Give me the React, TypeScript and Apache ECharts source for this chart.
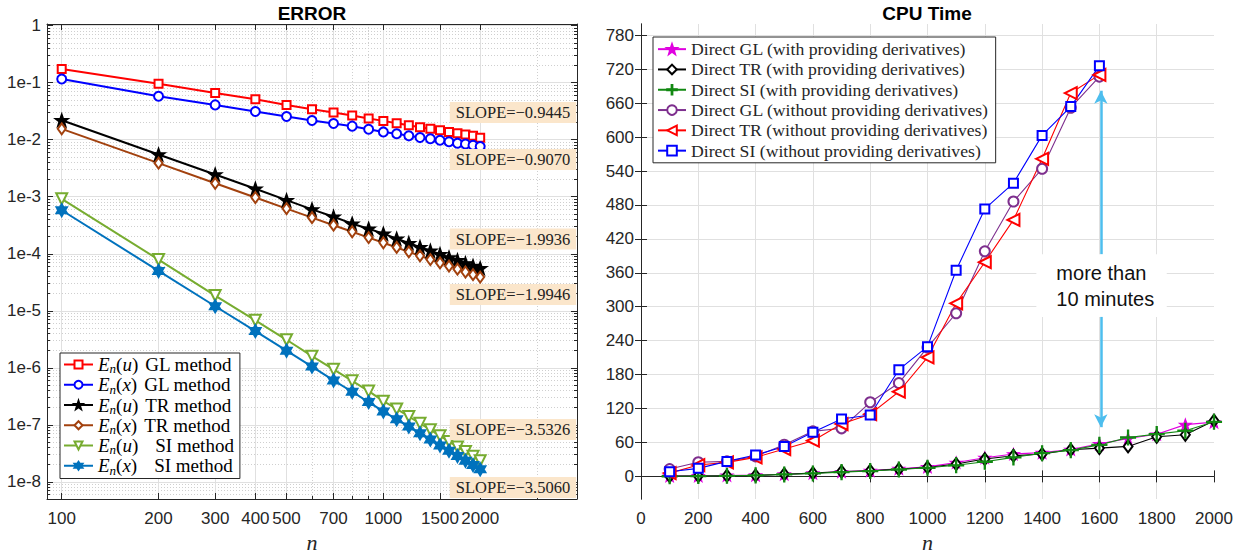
import React, { useEffect, useRef } from 'react';
import * as echarts from 'echarts';

// ---------- DATA ----------
const nErr = [100, 200, 300, 400, 500, 600, 700, 800, 900, 1000, 1100, 1200, 1300, 1400, 1500, 1600, 1700, 1800, 1900, 2000];
const errGLu = [0.174, 0.096, 0.066, 0.0513, 0.0408, 0.0343, 0.0299, 0.0265, 0.0235, 0.0214, 0.0195, 0.018, 0.0166, 0.0155, 0.0146, 0.0137, 0.013, 0.0123, 0.0117, 0.0108];
const errGLx = [0.1164, 0.0578, 0.0408, 0.0312, 0.0255, 0.0217, 0.0192, 0.0173, 0.0153, 0.0137, 0.0127, 0.0117, 0.0109, 0.0104, 0.0098, 0.0092, 0.0087, 0.0084, 0.008, 0.0076];
const errTRu = [0.022, 0.0055, 0.00246, 0.00138, 0.00087, 0.0006, 0.000446, 0.000337, 0.000275, 0.000225, 0.000184, 0.000154, 0.000131, 0.000113, 9.8e-5, 8.6e-5, 7.7e-5, 6.8e-5, 6.1e-5, 5.6e-5];
const errTRx = [0.0155, 0.00388, 0.00172, 0.00097, 0.00062, 0.00043, 0.000317, 0.000243, 0.000192, 0.000156, 0.000129, 0.000108, 9.2e-5, 7.9e-5, 6.9e-5, 6.07e-5, 5.37e-5, 4.79e-5, 4.3e-5, 3.9e-5];
const errSIu = [9.2e-4, 7.9e-5, 1.85e-5, 6.8e-6, 3.1e-6, 1.6e-6, 9.4e-7, 5.9e-7, 3.9e-7, 2.6e-7, 1.9e-7, 1.4e-7, 1.06e-7, 8.2e-8, 6.4e-8, 5.1e-8, 4.1e-8, 3.4e-8, 2.8e-8, 2.34e-8];
const errSIx = [5.8e-4, 5.0e-5, 1.2e-5, 4.4e-6, 2.0e-6, 1.05e-6, 6.0e-7, 3.8e-7, 2.5e-7, 1.72e-7, 1.25e-7, 9.3e-8, 7.1e-8, 5.5e-8, 4.35e-8, 3.5e-8, 2.85e-8, 2.35e-8, 1.97e-8, 1.66e-8];

const errXTicks = [100, 200, 300, 400, 500, 700, 1000, 1500, 2000];
const errXMinor = [600, 800, 900, 3000];
const errYDecades = [1e-8, 1e-7, 1e-6, 1e-5, 1e-4, 1e-3, 1e-2, 1e-1, 1];
const slopeTexts = ['SLOPE=−0.9445', 'SLOPE=−0.9070', 'SLOPE=−1.9936', 'SLOPE=−1.9946', 'SLOPE=−3.5326', 'SLOPE=−3.5060'];

const nCpu = [100, 200, 300, 400, 500, 600, 700, 800, 900, 1000, 1100, 1200, 1300, 1400, 1500, 1600, 1700, 1800, 1900, 2000];
const nCpuShort = [100, 200, 300, 400, 500, 600, 700, 800, 900, 1000, 1100, 1200, 1300, 1400, 1500, 1600];
const cpuGLwith = [0.6, 1.0, 1.6, 2.2, 3.8, 5.6, 8.2, 10.1, 13.6, 16.8, 24.5, 33.0, 39.5, 42.0, 47.5, 57.5, 67.0, 74.5, 91.5, 96.0];
const cpuTRwith = [0.4, 0.8, 1.2, 1.6, 3.9, 5.7, 8.6, 10.0, 12.8, 15.8, 21.8, 30.6, 36.5, 39.5, 47.0, 50.0, 53.0, 70.0, 73.6, 98.5];
const cpuSIwith = [0.2, 0.6, 1.0, 1.8, 3.4, 5.2, 7.6, 9.4, 12.2, 15.2, 19.6, 25.9, 33.6, 41.0, 46.5, 55.7, 68.8, 74.8, 80.8, 96.5];
const cpuGLwithout = [12.9, 25.0, 26.5, 35.4, 56.0, 79.6, 85.0, 131.0, 165.0, 228.0, 288.5, 398.0, 486.0, 544.0, 652.0, 707.0];
const cpuTRwithout = [5.8, 20.0, 24.8, 33.6, 48.3, 63.0, 92.6, 110.0, 149.7, 210.6, 306.0, 378.7, 453.6, 561.6, 677.9, 710.0];
const cpuSIwithout = [8.2, 14.2, 26.5, 37.7, 53.0, 77.9, 101.4, 108.5, 188.7, 229.4, 364.5, 473.0, 518.6, 603.0, 654.0, 726.0];
const cpuYTicks = [0, 60, 120, 180, 240, 300, 360, 420, 480, 540, 600, 660, 720, 780];

const errNames = ['En(u) GL method', 'En(x) GL method', 'En(u) TR method', 'En(x) TR method', 'En(u) SI method', 'En(x) SI method'];
const cpuNames = [
  'Direct GL (with providing derivatives)',
  'Direct TR (with providing derivatives)',
  'Direct SI (with providing derivatives)',
  'Direct GL (without providing derivatives)',
  'Direct TR (without providing derivatives)',
  'Direct SI (without providing derivatives)',
];

// ---------- STYLE ----------
const SANS = "'Liberation Sans', Arial, Helvetica, sans-serif";
const SERIF = "'Liberation Serif', 'Times New Roman', serif";
const AX = '#262626';
const GRID = '#E0E0E0';
const MINOR = '#CFCFCF';

const STAR5 = 'path://M0,-10 L2.35,-3.24 L9.51,-3.09 L3.8,1.24 L5.88,8.09 L0,4 L-5.88,8.09 L-3.8,1.24 L-9.51,-3.09 L-2.35,-3.24 Z';
const STAR6 = 'path://M0,-10 L2.887,-5 L8.66,-5 L5.774,0 L8.66,5 L2.887,5 L0,10 L-2.887,5 L-8.66,5 L-5.774,0 L-8.66,-5 L-2.887,-5 Z';
const PLUS = 'path://M-0.8,-10 L0.8,-10 L0.8,-0.8 L10,-0.8 L10,0.8 L0.8,0.8 L0.8,10 L-0.8,10 L-0.8,0.8 L-10,0.8 L-10,-0.8 L-0.8,-0.8 Z';

function pairs(xs: number[], ys: number[]) {
  return ys.map((v, i) => [xs[i], v]);
}

function buildMinorLog(min: number, max: number) {
  const out: number[] = [];
  for (let e = -10; e <= 1; e++) {
    for (let m = 2; m <= 9; m++) {
      const v = m * Math.pow(10, e);
      if (v > min * 1.0001 && v < max) out.push(v);
    }
  }
  return out;
}

const ERR_YMIN = 5e-9;
const ERR_YMAX = 1.07;
const ERR_XMIN = 90;
const ERR_XMAX = 4000;
const errYMinor = buildMinorLog(ERR_YMIN, ERR_YMAX);

function errSeries(name: string, data: number[], color: string, symbol: string, size: any, rotate = 0) {
  return {
    type: 'line',
    name,
    xAxisIndex: 0,
    yAxisIndex: 0,
    data: pairs(nErr, data),
    symbol,
    symbolSize: size,
    symbolRotate: rotate,
    symbolKeepAspect: true,
    lineStyle: { color, width: 2 },
    itemStyle: { color, borderColor: color, borderWidth: 1.5 },
    emphasis: { disabled: true },
    z: 3,
  };
}

function cpuSeries(name: string, xs: number[], data: number[], color: string, symbol: string, size: any, rotate = 0, fill?: string) {
  return {
    type: 'line',
    name,
    xAxisIndex: 3,
    yAxisIndex: 4,
    data: pairs(xs, data),
    symbol,
    symbolSize: size,
    symbolRotate: rotate,
    symbolKeepAspect: true,
    lineStyle: { color, width: 1.1 },
    itemStyle: { color: fill || color, borderColor: color, borderWidth: 1.1 },
    emphasis: { disabled: true },
    z: 3,
  };
}

const logFmtY = (v: number) => {
  const e = Math.round(Math.log10(v));
  return e === 0 ? '1' : '1e' + e;
};

function legendFmtErr(name: string) {
  const m = name.match(/^En\((\w)\) (\w+) method$/);
  if (!m) return name;
  const tok = m[2] === 'SI' ? 'gs' : 'g';
  return `{i|E}{s|n}{r|(}{i|${m[1]}}{r|)}{${tok}|${m[2]} method}`;
}

const slopeY = [112.5, 159.5, 239, 294.5, 429.5, 487.5];

function buildOption(): any {
  const axisLabelSans = { color: AX, fontFamily: SANS, fontSize: 17 };
  return {
    animation: false,
    backgroundColor: '#fff',
    textStyle: { fontFamily: SANS },
    grid: [
      { left: 47, top: 24, width: 530, height: 475, outerBoundsMode: 'none', containLabel: false },
      { left: 641, top: 24, width: 573, height: 475, outerBoundsMode: 'none', containLabel: false },
    ],
    xAxis: [
      {
        type: 'log', gridIndex: 0, min: ERR_XMIN, max: ERR_XMAX, position: 'bottom',
        axisLine: { show: true, lineStyle: { color: AX, width: 1 } },
        axisTick: { show: true, inside: true, length: 6, customValues: errXTicks, lineStyle: { color: AX } },
        axisLabel: { ...axisLabelSans, customValues: errXTicks, margin: 11, hideOverlap: false, formatter: (v: number) => String(Math.round(v)) },
        splitLine: { show: true, lineStyle: { color: GRID, width: 1 } },
        minorTick: { show: false }, minorSplitLine: { show: false },
        name: 'n', nameLocation: 'middle', nameGap: 29,
        nameTextStyle: { fontFamily: SERIF, fontStyle: 'italic', fontSize: 22, color: AX },
      },
      {
        type: 'log', gridIndex: 0, min: ERR_XMIN, max: ERR_XMAX, position: 'bottom',
        axisLine: { show: false },
        axisTick: { show: true, inside: true, length: 3, customValues: errXMinor, lineStyle: { color: AX } },
        axisLabel: { show: false, customValues: errXMinor },
        splitLine: { show: true, lineStyle: { color: MINOR, width: 1, type: [1, 2] } },
      },
      {
        type: 'log', gridIndex: 0, min: ERR_XMIN, max: ERR_XMAX, position: 'top',
        axisLine: { show: true, lineStyle: { color: AX, width: 1 } },
        axisTick: { show: true, inside: true, length: 6, customValues: errXTicks, lineStyle: { color: AX } },
        axisLabel: { show: false, customValues: errXTicks },
        splitLine: { show: false },
      },
      {
        type: 'value', gridIndex: 1, min: 0, max: 2000, interval: 200, position: 'bottom',
        axisLine: { show: true, lineStyle: { color: AX, width: 1 } },
        axisTick: { show: true, inside: true, length: 6, lineStyle: { color: AX } },
        axisLabel: { ...axisLabelSans, margin: 11, hideOverlap: false, showMinLabel: true, showMaxLabel: true, formatter: (v: number) => String(v) },
        splitLine: { show: true, showMinLine: false, showMaxLine: false, lineStyle: { color: GRID, width: 1 } },
        name: 'n', nameLocation: 'middle', nameGap: 29,
        nameTextStyle: { fontFamily: SERIF, fontStyle: 'italic', fontSize: 22, color: AX },
      },
      {
        type: 'value', gridIndex: 1, min: 0, max: 2000, interval: 200, position: 'top',
        axisLine: { show: true, lineStyle: { color: AX, width: 1 } },
        axisTick: { show: true, inside: true, length: 6, lineStyle: { color: AX } },
        axisLabel: { show: false },
        splitLine: { show: false },
      },
    ],
    yAxis: [
      {
        type: 'log', gridIndex: 0, min: ERR_YMIN, max: ERR_YMAX, position: 'left',
        axisLine: { show: true, lineStyle: { color: AX, width: 1 } },
        axisTick: { show: true, inside: true, length: 6, customValues: errYDecades, lineStyle: { color: AX } },
        axisLabel: { ...axisLabelSans, customValues: errYDecades, margin: 6, hideOverlap: false, formatter: logFmtY },
        splitLine: { show: true, lineStyle: { color: GRID, width: 1 } },
        minorTick: { show: false }, minorSplitLine: { show: false },
      },
      {
        type: 'log', gridIndex: 0, min: ERR_YMIN, max: ERR_YMAX, position: 'left',
        axisLine: { show: false },
        axisTick: { show: true, inside: true, length: 3, customValues: errYMinor, lineStyle: { color: AX } },
        axisLabel: { show: false, customValues: errYMinor },
        splitLine: { show: true, lineStyle: { color: MINOR, width: 1, type: [1, 2] } },
      },
      {
        type: 'log', gridIndex: 0, min: ERR_YMIN, max: ERR_YMAX, position: 'right',
        axisLine: { show: true, lineStyle: { color: AX, width: 1 } },
        axisTick: { show: true, inside: true, length: 6, customValues: errYDecades, lineStyle: { color: AX } },
        axisLabel: { show: false, customValues: errYDecades },
        splitLine: { show: false },
      },
      {
        type: 'log', gridIndex: 0, min: ERR_YMIN, max: ERR_YMAX, position: 'right',
        axisLine: { show: false },
        axisTick: { show: true, inside: true, length: 3, customValues: errYMinor, lineStyle: { color: AX } },
        axisLabel: { show: false, customValues: errYMinor },
        splitLine: { show: false },
      },
      {
        type: 'value', gridIndex: 1, min: -40, max: 800, position: 'left',
        axisLine: { show: true, lineStyle: { color: AX, width: 1 } },
        axisTick: { show: true, inside: true, length: 6, customValues: cpuYTicks, lineStyle: { color: AX } },
        axisLabel: { ...axisLabelSans, customValues: cpuYTicks, margin: 7, hideOverlap: false, formatter: (v: number) => String(v) },
        splitLine: { show: true, lineStyle: { color: GRID, width: 1 } },
      },
      {
        type: 'value', gridIndex: 1, min: -40, max: 800, position: 'right',
        axisLine: { show: true, lineStyle: { color: AX, width: 1 } },
        axisTick: { show: true, inside: true, length: 6, customValues: cpuYTicks, lineStyle: { color: AX } },
        axisLabel: { show: false, customValues: cpuYTicks },
        splitLine: { show: false },
      },
    ],
    legend: [
      {
        data: errNames,
        orient: 'vertical',
        left: 60, top: 353,
        itemWidth: 29, itemHeight: 10, itemGap: 0,
        padding: [2, 6, 2, 3],
        backgroundColor: '#fff', borderColor: AX, borderWidth: 1, borderRadius: 0,
        selectedMode: false,
        formatter: legendFmtErr,
        textStyle: {
          color: '#000', fontFamily: SERIF, fontSize: 19,
          rich: {
            i: { fontFamily: SERIF, fontStyle: 'italic', fontSize: 19, lineHeight: 21.5, color: '#000' },
            s: { fontFamily: SERIF, fontStyle: 'italic', fontSize: 13, lineHeight: 12, verticalAlign: 'bottom', color: '#000' },
            r: { fontFamily: SERIF, fontSize: 19, lineHeight: 21.5, color: '#000' },
            g: { fontFamily: SERIF, fontSize: 19, lineHeight: 21.5, color: '#000', padding: [0, 0, 0, 7] },
            gs: { fontFamily: SERIF, fontSize: 19, lineHeight: 21.5, color: '#000', padding: [0, 0, 0, 17] },
          },
        },
      },
      {
        data: cpuNames,
        orient: 'vertical',
        left: 653, top: 37,
        itemWidth: 28, itemHeight: 12, itemGap: 0,
        padding: [2, 7, 2, 4],
        backgroundColor: '#fff', borderColor: AX, borderWidth: 1, borderRadius: 0,
        selectedMode: false,
        textStyle: { color: AX, fontFamily: SERIF, fontSize: 17.7, lineHeight: 20.3 },
      },
    ],
    series: [
      errSeries(errNames[0], errGLu, '#FF0000', 'emptyRect', 8),
      errSeries(errNames[1], errGLx, '#0000FF', 'emptyCircle', 9),
      errSeries(errNames[2], errTRu, '#000000', STAR5, 13),
      errSeries(errNames[3], errTRx, '#A2410E', 'emptyDiamond', [8, 11]),
      errSeries(errNames[4], errSIu, '#77AC30', 'emptyTriangle', 11, 180),
      errSeries(errNames[5], errSIx, '#0072BD', STAR6, 13),
      cpuSeries(cpuNames[0], nCpu, cpuGLwith, '#E000E0', STAR5, 12, '#fff'),
      cpuSeries(cpuNames[1], nCpu, cpuTRwith, '#000000', 'emptyDiamond', [9, 12]),
      cpuSeries(cpuNames[2], nCpu, cpuSIwith, '#118811', PLUS, 15),
      cpuSeries(cpuNames[3], nCpuShort, cpuGLwithout, '#7E2F8E', 'emptyCircle', 10),
      cpuSeries(cpuNames[4], nCpuShort, cpuTRwithout, '#FF0000', 'emptyTriangle', 12, 90),
      {
        ...cpuSeries(cpuNames[5], nCpuShort, cpuSIwithout, '#0000FF', 'emptyRect', 9),
        markArea: {
          silent: true,
          itemStyle: { color: '#fff', opacity: 1, borderWidth: 0 },
          label: {
            show: true, position: 'insideLeft', distance: 20,
            formatter: 'more than\n10 minutes',
            fontFamily: SANS, fontSize: 20, lineHeight: 26, color: '#111',
          },
          data: [[{ coord: [1380, 393] }, { coord: [1835, 282] }]],
        },
        markLine: {
          silent: true,
          symbol: ['none', 'arrow'],
          symbolSize: [10, 13],
          lineStyle: { color: '#4DBEEE', width: 2.5, type: 'solid' },
          label: { show: false },
          emphasis: { disabled: true },
          data: [
            [{ coord: [1605, 393] }, { coord: [1605, 682] }],
            [{ coord: [1605, 282] }, { coord: [1605, 87] }],
          ],
        },
      },
    ],
    graphic: [
      {
        type: 'text', x: 312, y: 13, silent: true,
        style: { text: 'ERROR', fontFamily: SANS, fontWeight: 'bold', fontSize: 19, fill: '#000', align: 'center', verticalAlign: 'middle' },
      },
      {
        type: 'text', x: 927, y: 13, silent: true,
        style: { text: 'CPU Time', fontFamily: SANS, fontWeight: 'bold', fontSize: 19, fill: '#000', align: 'center', verticalAlign: 'middle' },
      },
      ...slopeTexts.map((t, i) => ({
        type: 'text', x: 513, y: slopeY[i], silent: true, z: 10,
        style: {
          text: t, fontFamily: SERIF, fontSize: 16.5, fill: '#222',
          align: 'center', verticalAlign: 'middle',
          backgroundColor: '#FBE6CB', padding: [2, 6, 2, 6],
        },
      })),
    ],
  };
}

export default function App() {
  const ref = useRef<HTMLDivElement>(null);
  useEffect(() => {
    if (!ref.current) return;
    const chart = echarts.init(ref.current, undefined, { renderer: 'svg' });
    chart.setOption(buildOption());
    return () => chart.dispose();
  }, []);
  return <div ref={ref} style={{ position: 'fixed', left: 0, top: 0, width: 1243, height: 554, background: '#fff' }} />;
}
